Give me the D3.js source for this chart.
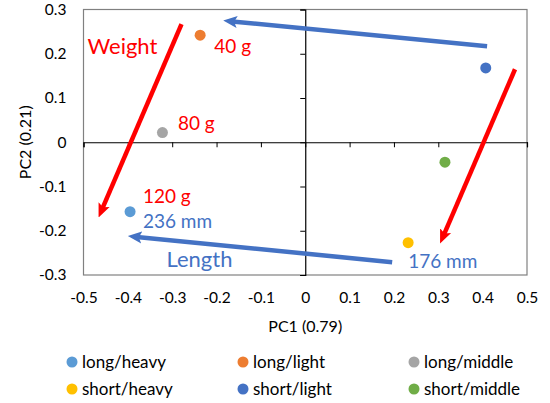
<!DOCTYPE html>
<html>
<head>
<meta charset="utf-8">
<script src="https://cdn.jsdelivr.net/npm/d3@7"></script>
<style>
  body { margin: 0; background: #fff; }
  svg { font-family: Lato, "Noto Sans", sans-serif; }
</style>
</head>
<body>
<script>
// groups and their PCA scores
var groups = ["long/heavy", "long/light", "long/middle", "short/heavy", "short/light", "short/middle"];
var colors = ["#5B9BD5", "#ED7D31", "#A5A5A5", "#FFC000", "#4472C4", "#70AD47"];
var pc1 = [-0.395, -0.237, -0.322, 0.232, 0.407, 0.315];
var pc2 = [-0.157, 0.242, 0.022, -0.227, 0.168, -0.045];

var xTicks = [-0.5, -0.4, -0.3, -0.2, -0.1, 0, 0.1, 0.2, 0.3, 0.4, 0.5];
var yTicks = [-0.3, -0.2, -0.1, 0, 0.1, 0.2, 0.3];

// annotation arrows (data space)
var arrows = [
  { x1: 0.41, y1: 0.217, x2: -0.185, y2: 0.275, color: "#4472C4" },
  { x1: 0.196, y1: -0.271, x2: -0.40, y2: -0.212, color: "#4472C4" },
  { x1: -0.279, y1: 0.267, x2: -0.466, y2: -0.170, color: "#FF0000" },
  { x1: 0.473, y1: 0.165, x2: 0.304, y2: -0.229, color: "#FF0000" }
];

// annotation labels (data space, left/baseline)
var labels = [
  { text: "Weight", x: -0.491, y: 0.199, color: "#FF0000", size: 22 },
  { text: "Length", x: -0.313, y: -0.281, color: "#4472C4", size: 22 },
  { text: "40 g", x: -0.205, y: 0.202, color: "#FF0000", size: 19 },
  { text: "80 g", x: -0.287, y: 0.027, color: "#FF0000", size: 19 },
  { text: "120 g", x: -0.366, y: -0.137, color: "#FF0000", size: 19 },
  { text: "236 mm", x: -0.366, y: -0.194, color: "#4472C4", size: 19 },
  { text: "176 mm", x: 0.232, y: -0.285, color: "#4472C4", size: 19 }
];

var width = 550, height = 403;
var mLeft = 83.5, mRight = 527, mTop = 9.5, mBottom = 275;

var svg = d3.select("body").append("svg")
    .attr("width", width)
    .attr("height", height);

var x = d3.scaleLinear().domain([-0.5, 0.5]).range([mLeft, mRight]);
var y = d3.scaleLinear().domain([-0.3, 0.3]).range([mBottom, mTop]);

function fmt(d) {
  if (Math.abs(d) < 1e-9) return "0";
  return d.toFixed(1);
}

// plot frame
svg.append("rect")
    .attr("x", mLeft).attr("y", mTop)
    .attr("width", mRight - mLeft).attr("height", mBottom - mTop)
    .attr("fill", "none")
    .attr("stroke", "#808080")
    .attr("stroke-width", 1.2);

// axes through the origin (ticks only)
var yAxis = svg.append("g")
    .attr("transform", "translate(" + x(0) + ",0)")
    .call(d3.axisLeft(y).tickValues(yTicks).tickSize(5).tickFormat(""));
var xAxis = svg.append("g")
    .attr("transform", "translate(0," + y(0) + ")")
    .call(d3.axisBottom(x).tickValues(xTicks).tickSize(5).tickFormat(""));
[yAxis, xAxis].forEach(function(a) {
  a.select(".domain").attr("stroke", "#000").attr("stroke-width", 1.2);
  a.selectAll(".tick line").attr("stroke", "#000").attr("stroke-width", 1);
});

// tick labels at the frame edges
svg.append("g")
    .attr("transform", "translate(" + mLeft + ",0)")
    .call(d3.axisLeft(y).tickValues(yTicks).tickSize(0).tickPadding(17).tickFormat(fmt))
    .call(function(g) { g.select(".domain").remove(); })
    .selectAll("text")
    .attr("font-size", 15.5).attr("font-family", "Lato").attr("fill", "#000");

svg.append("g")
    .attr("transform", "translate(0," + mBottom + ")")
    .call(d3.axisBottom(x).tickValues(xTicks).tickSize(0).tickPadding(17).tickFormat(fmt))
    .call(function(g) { g.select(".domain").remove(); })
    .selectAll("text")
    .attr("font-size", 15.5).attr("font-family", "Lato").attr("fill", "#000");

// axis titles
svg.append("text")
    .attr("x", x(0)).attr("y", 332)
    .attr("text-anchor", "middle")
    .attr("font-size", 16)
    .text("PC1 (0.79)");

svg.append("text")
    .attr("transform", "translate(31," + y(0) + ") rotate(-90)")
    .attr("text-anchor", "middle")
    .attr("font-size", 16)
    .text("PC2 (0.21)");

// arrow heads
var defs = svg.append("defs");
arrows.forEach(function(a, i) {
  defs.append("marker")
      .attr("id", "head" + i)
      .attr("markerUnits", "userSpaceOnUse")
      .attr("viewBox", "0 0 14 14")
      .attr("refX", 14).attr("refY", 7)
      .attr("markerWidth", 14).attr("markerHeight", 14)
      .attr("orient", "auto")
    .append("path")
      .attr("d", "M0,1 L14,7 L0,13 L3,7 Z")
      .attr("fill", a.color);
});

svg.selectAll(".arrow")
  .data(arrows)
  .join("line")
    .attr("class", "arrow")
    .each(function(d, i) {
      var px1 = x(d.x1), py1 = y(d.y1), px2 = x(d.x2), py2 = y(d.y2);
      var dx = px2 - px1, dy = py2 - py1, len = Math.sqrt(dx * dx + dy * dy);
      var cut = 9;
      d3.select(this)
        .attr("x1", px1).attr("y1", py1)
        .attr("x2", px2 - dx / len * cut).attr("y2", py2 - dy / len * cut);
      // marker placed at the real tip
      svg.append("path")
        .attr("d", "M" + (px2 - dx / len * cut) + "," + (py2 - dy / len * cut) + "L" + px2 + "," + py2)
        .attr("stroke", "none")
        .attr("fill", "none")
        .attr("marker-end", "url(#head" + i + ")");
    })
    .attr("stroke", function(d) { return d.color; })
    .attr("stroke-width", 4.5);

// points
svg.selectAll(".pt")
  .data(groups)
  .join("circle")
    .attr("class", "pt")
    .attr("cx", function(d, i) { return x(pc1[i]); })
    .attr("cy", function(d, i) { return y(pc2[i]); })
    .attr("r", 5.5)
    .attr("fill", function(d, i) { return colors[i]; });

// labels
svg.selectAll(".lbl")
  .data(labels)
  .join("text")
    .attr("class", "lbl")
    .attr("x", function(d) { return x(d.x); })
    .attr("y", function(d) { return y(d.y); })
    .attr("fill", function(d) { return d.color; })
    .attr("font-size", function(d) { return d.size; })
    .text(function(d) { return d.text; });

// legend
var legX = [72, 243, 414], legY = [362, 389];
var leg = svg.selectAll(".leg")
  .data(groups)
  .join("g")
    .attr("class", "leg")
    .attr("transform", function(d, i) {
      return "translate(" + legX[i % 3] + "," + legY[Math.floor(i / 3)] + ")";
    });
leg.append("circle")
    .attr("r", 5.5)
    .attr("fill", function(d, i) { return colors[i]; });
leg.append("text")
    .attr("x", 10)
    .attr("dy", "0.35em")
    .attr("font-size", 17)
    .attr("fill", "#000")
    .text(function(d) { return d; });
</script>
</body>
</html>
